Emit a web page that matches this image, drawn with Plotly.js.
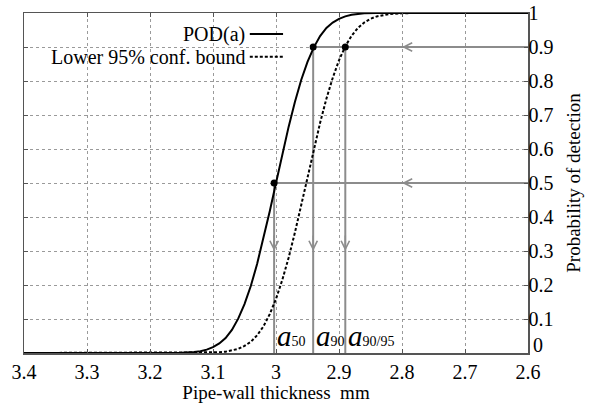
<!DOCTYPE html>
<html><head><meta charset="utf-8">
<script src="https://cdn.plot.ly/plotly-3.0.1.min.js"></script>
<style>html,body{margin:0;padding:0;background:#fff}#chart{width:595px;height:411px}</style>
</head><body><div id="chart"></div>
<script>
// Data
const podX = [3.4, 3.2, 3.15, 3.13, 3.12, 3.11, 3.1, 3.09, 3.08, 3.07, 3.06, 3.05, 3.04, 3.03, 3.02, 3.01, 3.0, 2.99, 2.98, 2.97, 2.96, 2.95, 2.94, 2.93, 2.92, 2.91, 2.9, 2.89, 2.88, 2.87, 2.86, 2.84, 2.82, 2.6];
const podY = [0, 0, 0.001, 0.003, 0.005, 0.010, 0.017, 0.028, 0.044, 0.068, 0.101, 0.144, 0.197, 0.262, 0.335, 0.416, 0.5, 0.584, 0.665, 0.738, 0.803, 0.856, 0.899, 0.932, 0.956, 0.972, 0.983, 0.990, 0.995, 0.997, 0.999, 1.0, 1.0, 1.0];
const lowX = [3.4, 3.16, 3.14, 3.12, 3.1, 3.09, 3.08, 3.07, 3.06, 3.05, 3.04, 3.03, 3.02, 3.01, 3.0, 2.99, 2.98, 2.97, 2.96, 2.95, 2.94, 2.93, 2.92, 2.91, 2.9, 2.89, 2.88, 2.87, 2.86, 2.85, 2.84, 2.82, 2.8, 2.78, 2.6];
const lowY = [0, 0, 0.0001, 0.0002, 0.001, 0.002, 0.004, 0.007, 0.012, 0.021, 0.033, 0.052, 0.078, 0.114, 0.159, 0.215, 0.28, 0.354, 0.434, 0.517, 0.599, 0.677, 0.748, 0.809, 0.861, 0.902, 0.933, 0.956, 0.972, 0.983, 0.990, 0.997, 0.999, 1.0, 1.0];
// characteristic points
const markLabels = ['50', '90', '90/95'];
const markX = [3.003, 2.941, 2.890];
const markY = [0.5, 0.9, 0.9];
// horizontal reference lines (from point to right edge) and arrow positions
const hLineY = [0.9, 0.5];
const hLineFromX = [2.941, 3.003];
const hArrowX = 2.8;
const vArrowY = 0.3;
const xRange = [3.4, 2.6];
const yRange = [0, 1];
const xTicks = [3.4, 3.3, 3.2, 3.1, 3.0, 2.9, 2.8, 2.7, 2.6];
const xTickText = ['3.4', '3.3', '3.2', '3.1', '3', '2.9', '2.8', '2.7', '2.6'];
const yTicks = [0, 0.1, 0.2, 0.3, 0.4, 0.5, 0.6, 0.7, 0.8, 0.9, 1];
const yTickText = ['0', '0.1', '0.2', '0.3', '0.4', '0.5', '0.6', '0.7', '0.8', '0.9', '1'];
const legendNames = ['POD(a)', 'Lower 95% conf. bound'];

const GRAY = '#8c8c8c';
const FONT = '"Liberation Serif", serif';

const traces = [];
markX.forEach((x, i) => {
  traces.push({x: [x, x], y: [0, markY[i]], mode: 'lines', line: {color: GRAY, width: 2}, hoverinfo: 'skip'});
});
hLineY.forEach((y, i) => {
  traces.push({x: [hLineFromX[i], xRange[1]], y: [y, y], mode: 'lines', line: {color: GRAY, width: 2}, hoverinfo: 'skip'});
});
traces.push({x: podX, y: podY, mode: 'lines', name: legendNames[0], line: {color: '#000', width: 2}});
traces.push({x: lowX, y: lowY, mode: 'lines', name: legendNames[1], line: {color: '#000', width: 2, dash: '3px,2px'}});
traces.push({x: markX, y: markY, mode: 'markers', marker: {color: '#000', size: 7}, hoverinfo: 'skip'});

const annotations = [];
hLineY.forEach(y => {
  annotations.push({x: hArrowX, y: y, ax: hArrowX - 0.03, ay: y, axref: 'x', ayref: 'y', xref: 'x', yref: 'y',
    text: '', showarrow: true, arrowhead: 5, arrowsize: 1.1, arrowwidth: 1.5, arrowcolor: GRAY, standoff: 0});
});
markX.forEach(x => {
  annotations.push({x: x, y: vArrowY, ax: x, ay: vArrowY + 0.05, axref: 'x', ayref: 'y', xref: 'x', yref: 'y',
    text: '', showarrow: true, arrowhead: 5, arrowsize: 1.1, arrowwidth: 1.5, arrowcolor: GRAY, standoff: 0});
});
markX.forEach((x, i) => {
  annotations.push({x: x, y: 0, xref: 'x', yref: 'y', xanchor: 'left', yanchor: 'bottom', xshift: 1, yshift: -1,
    text: '<i>a</i><span style="font-size:14px">' + markLabels[i] + '</span>', showarrow: false,
    font: {family: FONT, size: 29, color: '#000'}});
});
// the "0" label of the right axis sits slightly above its tick in the reference
annotations.push({x: 1, y: yTicks[0], xref: 'paper', yref: 'y', xanchor: 'left', yanchor: 'middle', xshift: 3, yshift: 8,
  text: yTickText[0], showarrow: false, font: {family: FONT, size: 20, color: '#000'}});
const legY = [0.938, 0.871];
legendNames.forEach((n, i) => {
  annotations.push({x: 0.442, y: legY[i], xref: 'paper', yref: 'paper', xanchor: 'right', yanchor: 'middle',
    text: n, showarrow: false, font: {family: FONT, size: 20, color: '#000'}});
});
const shapes = [
  {type: 'line', xref: 'paper', yref: 'paper', x0: 0.448, x1: 0.514, y0: legY[0], y1: legY[0], line: {color: '#000', width: 2}},
  {type: 'line', xref: 'paper', yref: 'paper', x0: 0.448, x1: 0.514, y0: legY[1], y1: legY[1], line: {color: '#000', width: 2, dash: '3px,2px'}}
];

const layout = {
  width: 595, height: 411,
  margin: {l: 24, r: 67, t: 13, b: 58},
  showlegend: false,
  paper_bgcolor: '#fff', plot_bgcolor: '#fff',
  font: {family: FONT, color: '#000', size: 20},
  xaxis: {
    range: xRange, tickvals: xTicks, ticktext: xTickText,
    showgrid: true, gridcolor: '#9a9a9a', griddash: 'dot', gridwidth: 1,
    showline: true, linecolor: '#555', linewidth: 1.5, mirror: 'ticks',
    ticks: 'inside', ticklen: 4, tickcolor: '#555', zeroline: false,
    tickfont: {family: FONT, size: 20, color: '#000'},
    title: {text: 'Pipe-wall thickness\u00a0 mm', font: {family: FONT, size: 19, color: '#000'}, standoff: 4}
  },
  yaxis: {
    range: yRange, side: 'right', tickvals: yTicks.slice(1), ticktext: yTickText.slice(1),
    showgrid: true, gridcolor: '#9a9a9a', griddash: 'dot', gridwidth: 1,
    showline: true, linecolor: '#555', linewidth: 1.5, mirror: 'ticks',
    ticks: 'inside', ticklen: 4, tickcolor: '#555', zeroline: false,
    ticklabelstandoff: -5,
    tickfont: {family: FONT, size: 20, color: '#000'},
    title: {text: 'Probability of detection', font: {family: FONT, size: 19, color: '#000'}, standoff: 14}
  },
  annotations: annotations,
  shapes: shapes
};
Plotly.newPlot('chart', traces, layout, {staticPlot: true});
</script>
</body></html>
